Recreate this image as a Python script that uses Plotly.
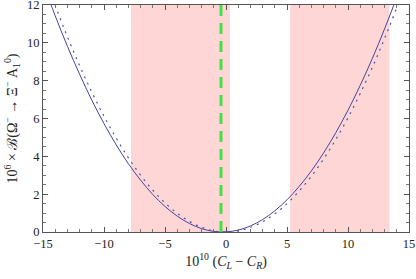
import plotly.graph_objects as go

x_vals = list(range(-15, 16))
solid_y = [13.16, 11.43, 9.82, 8.34, 6.97, 5.73, 4.61, 3.61, 2.74, 1.98, 1.35, 0.84, 0.45, 0.18, 0.03, 0.01,
           0.10, 0.32, 0.66, 1.12, 1.70, 2.41, 3.23, 4.18, 5.25, 6.44, 7.75, 9.18, 10.74, 12.42, 14.21]
dotted_y = [13.73, 11.97, 10.32, 8.80, 7.40, 6.12, 4.96, 3.92, 3.00, 2.21, 1.54, 0.99, 0.56, 0.25, 0.06, 0.00,
            0.06, 0.24, 0.54, 0.96, 1.50, 2.17, 2.95, 3.86, 4.89, 6.04, 7.32, 8.71, 10.23, 11.87, 13.62]
shade_regions = [(-7.79, 0.33), (5.25, 13.4)]
green_x = -0.41
x_range = [-15, 15]
y_range = [0, 12]

fig = go.Figure()
for x0, x1 in shade_regions:
    fig.add_shape(type="rect", xref="x", yref="y", x0=x0, x1=x1, y0=y_range[0], y1=y_range[1],
                  fillcolor="#ffd6d6", line_width=0, layer="below")

fig.add_trace(go.Scatter(x=x_vals, y=solid_y, mode="lines", line=dict(color="#4545a0", width=1, shape="spline"),
                         showlegend=False))
fig.add_trace(go.Scatter(x=x_vals, y=dotted_y, mode="lines",
                         line=dict(color="#5050b0", width=1.2, dash="2px,5px", shape="spline"), showlegend=False))
fig.add_trace(go.Scatter(x=[green_x, green_x], y=y_range, mode="lines",
                         line=dict(color="#44e044", width=3, dash="11px,7px"), showlegend=False))

axis_common = dict(showgrid=False, zeroline=False, showline=True, linecolor="#555555", linewidth=1,
                   mirror="ticks", ticks="inside", tickcolor="#555555", ticklen=5,
                   ticklabeloverflow="allow", automargin=False,
                   tickfont=dict(family="Liberation Serif", size=12.5, color="#222222"))
fig.update_xaxes(range=x_range, dtick=5, tick0=0,
                 minor=dict(dtick=1, ticks="inside", ticklen=3, tickcolor="#777777"),
                 title=dict(text="10<sup>10</sup> (<i>C<sub>L</sub></i> − <i>C<sub>R</sub></i>)",
                            font=dict(family="Liberation Serif", size=14, color="#222222"), standoff=4),
                 **axis_common)
fig.update_yaxes(range=y_range, dtick=2, tick0=0,
                 minor=dict(dtick=0.5, ticks="inside", ticklen=3, tickcolor="#777777"),
                 title=dict(text="10<sup>6</sup> × ℬ(Ω<sup>−</sup> → Ξ<sup>−</sup> A<sub>1</sub><sup>0</sup>)",
                            font=dict(family="Liberation Serif", size=14, color="#222222"), standoff=6),
                 **axis_common)
fig.update_layout(width=416, height=279, margin=dict(l=43, r=7, t=5, b=47),
                  plot_bgcolor="white", paper_bgcolor="white")
fig.write_html("out.html", config={"displayModeBar": False},
               post_script="document.body.style.margin='0';")
